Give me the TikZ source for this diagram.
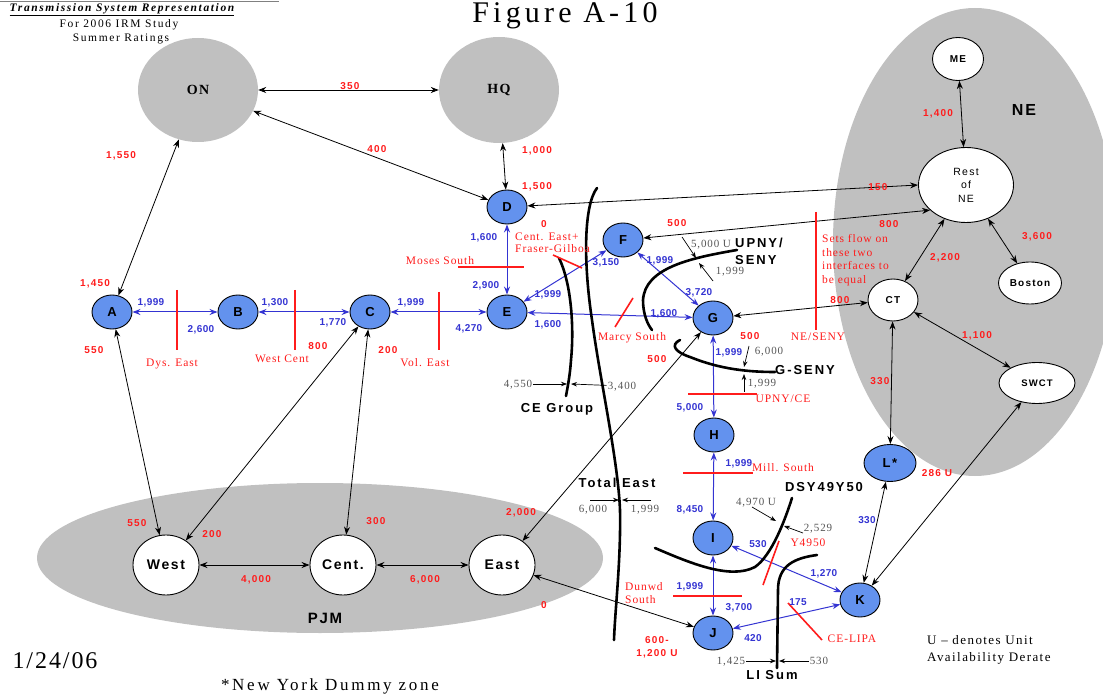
\documentclass[tikz,border=0pt]{standalone}
\usepackage{fontspec}
\setmainfont{Liberation Serif}[LetterSpace=8]
\setsansfont{Liberation Sans}[LetterSpace=12]
\usetikzlibrary{shapes.geometric,arrows.meta}
\definecolor{busblue}{RGB}{99,146,238}
\definecolor{poolgray}{RGB}{192,192,192}
\definecolor{flowblue}{RGB}{52,52,210}
\definecolor{cutred}{RGB}{255,28,28}
\definecolor{ratinggray}{RGB}{85,85,85}
\newcommand{\fsz}[1]{\fontsize{#1}{#1}\selectfont}

\begin{document}
\begin{tikzpicture}[x=1pt, y=-1pt, >={Stealth[length=8pt,width=6pt]},
    bus/.style={ellipse, draw, line width=0.9pt, fill=busblue, minimum width=40pt, minimum height=34pt, inner sep=0pt, font=\sffamily\bfseries\fsz{13}},
    area/.style={ellipse, draw, line width=0.9pt, fill=white, inner sep=0pt, font=\sffamily\bfseries\fsz{10}},
    market/.style={ellipse, draw, line width=0.9pt, fill=white, minimum width=66pt, minimum height=60pt, inner sep=0pt, font=\sffamily\bfseries\fsz{14}},
    pool/.style={ellipse, fill=poolgray, inner sep=0pt, font=\rmfamily\bfseries\addfontfeature{LetterSpace=10}\fsz{14}},
    tie/.style={<->, line width=0.8pt},
    flow/.style={<->, flowblue, line width=1pt},
    lim/.style={-{Stealth[length=6pt,width=4.5pt]}, line width=0.7pt},
    cut/.style={cutred, line width=1.6pt},
    iface/.style={line width=2.6pt, line cap=round},
    rednum/.style={text=cutred, font=\sffamily\bfseries\fsz{10}, text height=7.2pt, text depth=0pt, inner sep=0pt},
    bluenum/.style={text=flowblue, font=\sffamily\bfseries\addfontfeature{LetterSpace=4}\fsz{10}, text height=7.2pt, text depth=0pt, inner sep=0pt},
    graynum/.style={text=ratinggray, font=\rmfamily\fsz{11}, text height=7.4pt, text depth=0pt, inner sep=1pt},
    redtag/.style={text=cutred, font=\rmfamily\fsz{11.5}, text height=7.6pt, text depth=0pt, inner sep=0pt},
    ifname/.style={font=\sffamily\bfseries\addfontfeature{LetterSpace=15}\fsz{13}, text height=9.3pt, text depth=0pt, inner sep=0pt}]

\useasboundingbox (0,0) rectangle (1103,700);

% control areas
\fill[poolgray] (975,242) ellipse [x radius=142pt, y radius=234pt];
\fill[poolgray] (320,558) ellipse [x radius=283pt, y radius=75pt];

% heading
\draw[gray, line width=0.8pt] (0,1) -- (279,1);
\node[font=\rmfamily\bfseries\itshape\addfontfeature{LetterSpace=14}\fsz{11.5}, inner sep=0pt] (head) at (122,10) {\underline{Transmission System Representation}};
\node[font=\rmfamily\addfontfeature{LetterSpace=14}\fsz{11.5}, inner sep=0pt] (study) at (119,25) {For 2006 IRM Study};
\node[font=\rmfamily\addfontfeature{LetterSpace=14}\fsz{11.5}, inner sep=0pt] (season) at (121,39) {Summer Ratings};
\node[font=\rmfamily\addfontfeature{LetterSpace=14}\fsz{30}, anchor=base, inner sep=0pt] (fig) at (565,23) {Figure A-10};

% neighbouring pools
\node[pool, minimum width=120pt, minimum height=104pt] (ON) at (198,90) {ON};
\node[pool, minimum width=120pt, minimum height=106pt] (HQ) at (499,90) {HQ};

% New York zones
\node[bus] (A) at (112,312) {A};
\node[bus] (B) at (238,312) {B};
\node[bus] (C) at (370,312) {C};
\node[bus] (D) at (507,207) {D};
\node[bus] (E) at (507,312) {E};
\node[bus] (F) at (623,240) {F};
\node[bus] (G) at (713,318) {G};
\node[bus] (H) at (714,435) {H};
\node[bus] (I) at (713,538) {I};
\node[bus] (J) at (713,633) {J};
\node[bus] (K) at (860,600) {K};
\node[bus, minimum width=52pt, minimum height=37pt] (L) at (890,463) {L*};

% New England
\node[area, minimum width=51pt, minimum height=43pt] (ME) at (958,59) {ME};
\node[area, minimum width=95pt, minimum height=75pt, align=center, font=\sffamily\fontsize{10.5}{13.5}\selectfont] (RNE) at (966,185) {Rest\\of\\NE};
\node[area, minimum width=63pt, minimum height=42pt] (Boston) at (1030,283) {Boston};
\node[area, minimum width=50pt, minimum height=42pt] (CT) at (893,300) {CT};
\node[area, minimum width=76pt, minimum height=41pt, font=\sffamily\bfseries\fsz{9.5}] (SWCT) at (1037,383) {SWCT};
\node[font=\sffamily\bfseries\fsz{16}] (NEname) at (1024,110) {NE};

% PJM
\node[market] (West) at (166,565) {West};
\node[market] (Cent) at (343,565) {Cent.};
\node[market] (East) at (502,565) {East};
\node[font=\sffamily\bfseries\fsz{15}] (PJMname) at (325,618) {PJM};

% ties to outside areas
\draw[tie] (ON) -- (HQ);
\draw[tie] (ON) -- (D);
\draw[tie] (HQ) -- (D);
\draw[tie] (ON) -- (A);
\draw[tie] (A) -- (West);
\draw[tie] (C) -- (West);
\draw[tie] (C) -- (Cent);
\draw[tie] (West) -- (Cent);
\draw[tie] (Cent) -- (East);
\draw[tie] (G) -- (East);
\draw[tie] (East) -- (J);
\draw[tie] (D) -- (RNE.west);
\draw[tie] (F) -- (RNE.215);
\draw[tie] (G) -- (CT);
\draw[tie] (ME) -- (RNE);
\draw[tie] (RNE) -- (Boston);
\draw[tie] (RNE) -- (CT);
\draw[tie] (CT) -- (SWCT);
\draw[tie] (CT) -- (L);
\draw[tie] (L) -- (K);
\draw[tie] (SWCT) -- (K);

% internal links
\draw[flow] (A) -- (B);
\draw[flow] (B) -- (C);
\draw[flow] (C) -- (E);
\draw[flow] (D) -- (E);
\draw[flow] (E) -- (F);
\draw[flow] (E) -- (G);
\draw[flow] (F) -- (G);
\draw[flow] (G) -- (H);
\draw[flow] (H) -- (I);
\draw[flow] (I) -- (J);
\draw[flow] (I) -- (K);
\draw[flow] (J) -- (K);

% interface groups
\draw[iface] (597,188) .. controls (584,205) and (583,260) .. (592,320) .. controls (600,380) and (618,460) .. (620,510) .. controls (621,560) and (615,610) .. (614,640);
\draw[iface] (559,258) .. controls (572,285) and (574,330) .. (571,360) .. controls (570,375) and (568,385) .. (566,396);
\draw[iface] (737,250) .. controls (690,258) and (645,268) .. (643,300) .. controls (643,315) and (648,325) .. (652,330);
\draw[iface] (680,340) .. controls (670,345) and (675,352) .. (690,357) .. controls (715,367) and (740,372) .. (775,372);
\draw[iface] (655,548) .. controls (690,563) and (730,580) .. (755,567) .. controls (772,555) and (785,520) .. (792,498);
\draw[iface] (817,555) .. controls (795,558) and (778,565) .. (778,590) -- (777,668);

% interface cuts
\draw[cut] (177,290) -- (177,350);
\draw[cut] (295,290) -- (295,350);
\draw[cut] (439,292) -- (439,350);
\draw[cut] (458,267) -- (524,267);
\draw[cut] (553,255) -- (582,268);
\draw[cut] (633,298) -- (615,327);
\draw[cut] (816,212) -- (816,330);
\draw[cut] (688,394) -- (757,394);
\draw[cut] (683,473) -- (753,473);
\draw[cut] (779,541) -- (763,585);
\draw[cut] (673,596) -- (742,596);
\draw[cut] (788,603) -- (822,640);

% interface names
\node[ifname] (ceg) at (557,408) {CE Group};
\node[ifname, anchor=west, align=left, text height=, text depth=, font=\sffamily\bfseries\addfontfeature{LetterSpace=15}\fontsize{13}{17}\selectfont] (upny) at (735,251) {UPNY/\\SENY};
\node[ifname] (gseny) at (805,370) {G-SENY};
\node[ifname] (tote) at (617,483) {Total East};
\node[ifname] (dsy) at (824,487) {DSY49Y50};
\node[ifname] (lis) at (772,675) {LI Sum};

% cut names
\foreach \px/\py/\txt [count=\i] in {172/363/Dys. East, 282/359/West Cent, 425/363/Vol. East, 440/261/Moses South, 632/337/Marcy South, 783/468/Mill. South, 808/543/Y4950, 852/639/CE-LIPA}
  \node[redtag] (cut\i) at (\px,\py) {\txt};
\node[redtag] (upce) at (783,399) {UPNY/CE};
\node[redtag] (neseny) at (818,337) {NE/SENY};
\node[text=cutred, font=\rmfamily\fontsize{11.5}{12.5}\selectfont, anchor=west, align=left, inner sep=0pt] (cefg) at (515,243) {Cent. East+\\Fraser-Gilboa};
\node[text=cutred, font=\rmfamily\fontsize{11.5}{13}\selectfont, anchor=west, align=left, inner sep=0pt] (dunwd) at (625,593) {Dunwd\\South};
\node[text=cutred, font=\rmfamily\fontsize{11.5}{13.5}\selectfont, anchor=west, align=left, inner sep=0pt] (sets) at (822,260) {Sets flow on\\these two\\interfaces to\\be equal};

% tie ratings
\foreach \px/\py/\txt [count=\i] in {350/86/350, 377/149/400, 537/150/{1,000}, 537/186/{1,500}, 121/155/{1,550}, 95/283/{1,450}, 94/350/550, 318/346/800, 388/350/200, 137/523/550, 212/534/200, 376/521/300, 521/512/{2,000}, 544/605/0, 256/579/{4,000}, 425/579/{6,000}, 544/224/0, 878/187/150, 677/223/500, 889/224/800, 657/359/500, 750/336/500, 840/300/800, 938/113/{1,400}, 1037/236/{3,600}, 945/257/{2,200}, 977/335/{1,100}, 880/381/330, 937/473/{286 U}}
  \node[rednum] (tr\i) at (\px,\py) {\txt};
\node[text=cutred, font=\sffamily\bfseries\fontsize{10}{13}\selectfont, align=center, inner sep=0pt] (jrate) at (657,647) {600-\\1,200 U};

% link ratings
\foreach \px/\py/\txt [count=\i] in {151/302/{1,999}, 201/329/{2,600}, 275/302/{1,300}, 333/322/{1,770}, 411/302/{1,999}, 469/328/{4,270}, 484/237/{1,600}, 486/285/{2,900}, 548/294/{1,999}, 606/262/{3,150}, 548/324/{1,600}, 664/313/{1,600}, 660/260/{1,999}, 699/292/{3,720}, 729/352/{1,999}, 690/407/{5,000}, 739/463/{1,999}, 690/509/{8,450}, 690/586/{1,999}, 739/607/{3,700}, 758/544/530, 824/573/{1,270}, 798/602/175, 753/638/420, 867/520/330}
  \node[bluenum] (lr\i) at (\px,\py) {\txt};

% interface limits
\node[graynum] (ce1) at (518,384) {4,550};
\node[graynum] (ce2) at (622,386) {3,400};
\coordinate (ceL) at (567,384);
\coordinate (ceR) at (571,384);
\draw[lim] (ce1) -- (ceL);
\draw[lim] (ce2) -- (ceR);

\node[graynum] (up1) at (711,244) {5,000 U};
\node[graynum] (up2) at (730,271) {1,999};
\coordinate (up1a) at (682,237);
\coordinate (up1b) at (696,258);
\coordinate (up2a) at (713,281);
\coordinate (up2b) at (699,263);
\draw[lim] (up1a) -- (up1b);
\draw[lim] (up2a) -- (up2b);

\node[graynum] (gs1) at (769,351) {6,000};
\node[graynum] (gs2) at (762,383) {1,999};
\coordinate (gs1a) at (749,346);
\coordinate (gs1b) at (744,367);
\coordinate (gs2a) at (744,392);
\coordinate (gs2b) at (744,374);
\draw[lim] (gs1a) -- (gs1b);
\draw[lim] (gs2a) -- (gs2b);

\node[graynum] (te1) at (593,509) {6,000};
\node[graynum] (te2) at (645,509) {1,999};
\coordinate (te1a) at (590,500);
\coordinate (te1b) at (619,500);
\coordinate (te2a) at (651,500);
\coordinate (te2b) at (622,500);
\draw[lim] (te1a) -- (te1b);
\draw[lim] (te2a) -- (te2b);

\node[graynum] (ds1) at (756,502) {4,970 U};
\node[graynum] (ds2) at (818,528) {2,529};
\coordinate (ds1a) at (752,507);
\coordinate (ds1b) at (776,521);
\coordinate (ds2a) at (803,533);
\coordinate (ds2b) at (784,526);
\draw[lim] (ds1a) -- (ds1b);
\draw[lim] (ds2a) -- (ds2b);

\node[graynum] (li1) at (731,661) {1,425};
\node[graynum] (li2) at (819,661) {530};
\coordinate (liL) at (776,661);
\coordinate (liR) at (779,661);
\draw[lim] (li1) -- (liL);
\draw[lim] (li2) -- (liR);

% notes
\node[font=\rmfamily\fsz{24}, inner sep=0pt] (date) at (55,661) {1/24/06};
\node[font=\rmfamily\addfontfeature{LetterSpace=16}\fsz{17}, inner sep=0pt] (dummy) at (330,686) {*New York Dummy zone};
\node[font=\rmfamily\addfontfeature{LetterSpace=11}\fontsize{13}{17}\selectfont, anchor=west, align=left, inner sep=0pt] (legend) at (927,650) {U -- denotes Unit\\Availability Derate};
\end{tikzpicture}
\end{document}
